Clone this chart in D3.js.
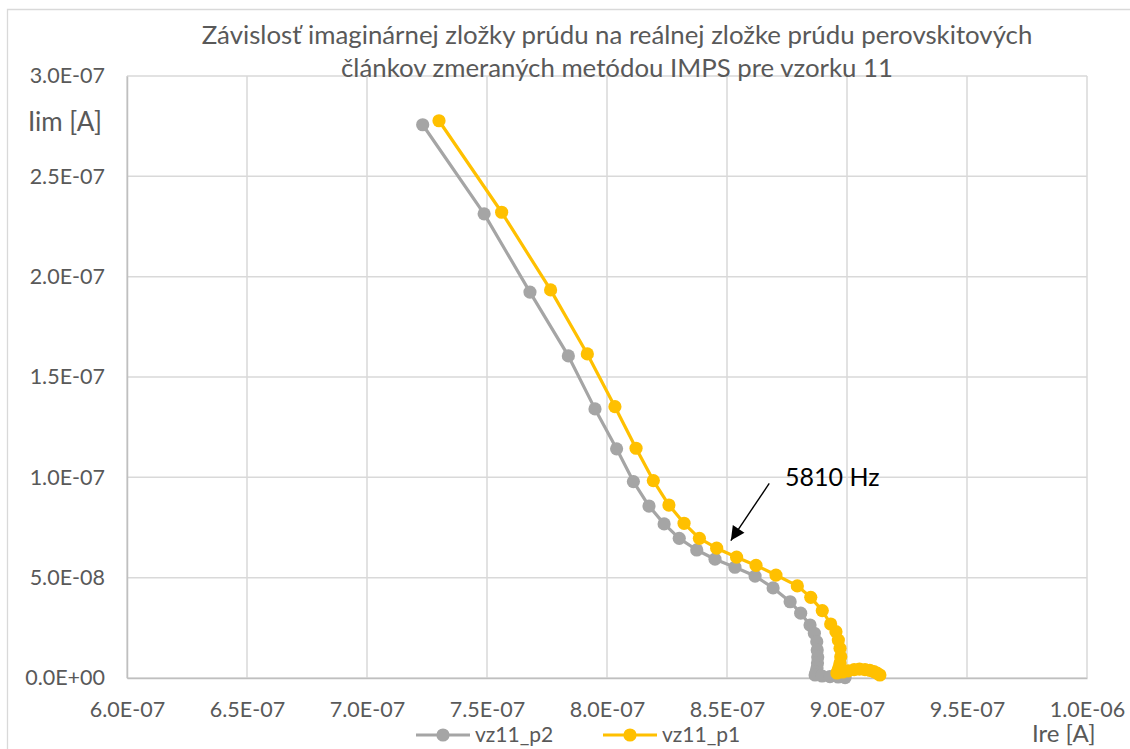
<!DOCTYPE html>
<html>
<head>
<meta charset="utf-8">
<script src="https://cdn.jsdelivr.net/npm/d3@7"></script>
<style>
  html, body { margin: 0; padding: 0; background: #fff; }
  svg { display: block; font-family: Lato, "Open Sans", sans-serif; }
</style>
</head>
<body>
<svg id="chart" width="1130" height="749"></svg>
<script>
// IMPS Nyquist data, sample 11: real part (Ire) vs imaginary part (Iim), amps
const seriesNames = ["vz11_p2", "vz11_p1"];
const seriesColors = ["#A5A5A5", "#FFC000"];

const p2Re = [7.232e-7, 7.488e-7, 7.679e-7, 7.839e-7, 7.950e-7, 8.040e-7, 8.110e-7, 8.175e-7, 8.238e-7, 8.301e-7,
  8.374e-7, 8.450e-7, 8.533e-7, 8.617e-7, 8.692e-7, 8.763e-7, 8.807e-7, 8.846e-7, 8.864e-7, 8.874e-7,
  8.876e-7, 8.878e-7, 8.877e-7, 8.875e-7, 8.871e-7, 8.867e-7, 8.896e-7, 8.929e-7, 8.963e-7, 8.992e-7];
const p2Im = [2.757e-7, 2.313e-7, 1.923e-7, 1.605e-7, 1.341e-7, 1.142e-7, 9.79e-8, 8.57e-8, 7.68e-8, 6.96e-8,
  6.38e-8, 5.92e-8, 5.52e-8, 5.08e-8, 4.49e-8, 3.80e-8, 3.23e-8, 2.64e-8, 2.23e-8, 1.81e-8,
  1.40e-8, 1.05e-8, 7.5e-9, 5.0e-9, 3.0e-9, 1.5e-9, 1.0e-9, 7e-10, 5e-10, 2e-10];

const p1Re = [7.300e-7, 7.561e-7, 7.765e-7, 7.918e-7, 8.033e-7, 8.121e-7, 8.193e-7, 8.258e-7, 8.321e-7, 8.385e-7,
  8.457e-7, 8.540e-7, 8.621e-7, 8.704e-7, 8.793e-7, 8.849e-7, 8.897e-7, 8.932e-7, 8.954e-7, 8.964e-7,
  8.971e-7, 8.974e-7, 8.971e-7, 8.968e-7, 8.963e-7, 8.958e-7, 8.982e-7, 9.005e-7, 9.030e-7, 9.052e-7,
  9.075e-7, 9.095e-7, 9.112e-7, 9.125e-7, 9.137e-7];
const p1Im = [2.777e-7, 2.321e-7, 1.934e-7, 1.615e-7, 1.352e-7, 1.145e-7, 9.84e-8, 8.62e-8, 7.71e-8, 6.96e-8,
  6.47e-8, 6.02e-8, 5.61e-8, 5.13e-8, 4.59e-8, 4.02e-8, 3.36e-8, 2.69e-8, 2.31e-8, 1.89e-8,
  1.48e-8, 1.06e-8, 7.5e-9, 5.6e-9, 4.0e-9, 2.5e-9, 3.0e-9, 3.6e-9, 4.2e-9, 4.4e-9,
  4.2e-9, 3.8e-9, 3.2e-9, 2.4e-9, 1.5e-9];

const xTicks = [6.0e-7, 6.5e-7, 7.0e-7, 7.5e-7, 8.0e-7, 8.5e-7, 9.0e-7, 9.5e-7, 1.0e-6];
const yTicks = [0, 5e-8, 1.0e-7, 1.5e-7, 2.0e-7, 2.5e-7, 3.0e-7];

const titleLines = ["Závislosť imaginárnej zložky prúdu na reálnej zložke prúdu perovskitových",
                    "článkov zmeraných metódou IMPS pre vzorku 11"];
const xTitle = "Ire [A]";
const yTitle = "Iim [A]";

// frequency callout: label and the point it refers to (data coordinates)
const calloutText = "5810 Hz";
const calloutTip = [8.516e-7, 6.85e-8];
const calloutTail = [8.676e-7, 9.7e-8];

const svg = d3.select("#chart");
const W = 1130, H = 749;
const plot = { left: 127, right: 1087, top: 76, bottom: 678 };

const x = d3.scaleLinear().domain([6.0e-7, 1.0e-6]).range([plot.left, plot.right]);
const y = d3.scaleLinear().domain([0, 3.0e-7]).range([plot.bottom, plot.top]);

// "5.0E-08" style exponent labels
function sci(v) {
  if (v === 0) return "0.0E+00";
  const e = Math.floor(Math.log10(Math.abs(v)) + 1e-9);
  const m = v / Math.pow(10, e);
  const sign = e < 0 ? "-" : "+";
  return m.toFixed(1) + "E" + sign + String(Math.abs(e)).padStart(2, "0");
}

// outer chart frame
svg.append("path")
  .attr("d", `M7.5,${H} V9.5 H${W}`)
  .attr("fill", "none").attr("stroke", "#D9D9D9").attr("stroke-width", 1.3);

// gridlines
const grid = svg.append("g");
grid.selectAll("line.v").data(xTicks).join("line")
  .attr("x1", d => x(d)).attr("x2", d => x(d))
  .attr("y1", plot.top).attr("y2", plot.bottom)
  .attr("stroke", "#D9D9D9").attr("stroke-width", 1.5);
grid.selectAll("line.h").data(yTicks).join("line")
  .attr("y1", d => y(d)).attr("y2", d => y(d))
  .attr("x1", plot.left).attr("x2", plot.right)
  .attr("stroke", "#D9D9D9").attr("stroke-width", 1.5);

// axes
const xAxis = svg.append("g").attr("transform", `translate(0,${plot.bottom})`)
  .call(d3.axisBottom(x).tickValues(xTicks).tickFormat(sci).tickSize(0).tickPadding(25));
const yAxis = svg.append("g").attr("transform", `translate(${plot.left},0)`)
  .call(d3.axisLeft(y).tickValues(yTicks).tickFormat(sci).tickSize(0).tickPadding(22));
[xAxis, yAxis].forEach(g => {
  g.select(".domain").attr("stroke", "#BFBFBF").attr("stroke-width", 1.5);
  g.selectAll("text").attr("fill", "#595959").style("font-size", "21.5px")
    .style("font-family", "Lato, 'Open Sans', sans-serif");
});
xAxis.selectAll("text").attr("dy", "0.32em").attr("y", 32);

// axis titles
svg.append("text").attr("x", 28).attr("y", 122).attr("dy", "0.35em")
  .attr("fill", "#595959").style("font-size", "26px").text(yTitle);
svg.append("text").attr("x", 1032).attr("y", 734).attr("dy", "0.35em")
  .attr("fill", "#595959").style("font-size", "24px").text(xTitle);

// chart title
svg.append("g").selectAll("text").data(titleLines).join("text")
  .attr("x", 617).attr("y", (d, i) => 35 + i * 33).attr("dy", "0.35em")
  .attr("text-anchor", "middle").attr("fill", "#595959")
  .style("font-size", "25.8px").text(d => d);

// series: lines with round markers
const series = [
  { name: seriesNames[0], color: seriesColors[0], pts: p2Re.map((v, i) => [v, p2Im[i]]) },
  { name: seriesNames[1], color: seriesColors[1], pts: p1Re.map((v, i) => [v, p1Im[i]]) }
];
const line = d3.line().x(d => x(d[0])).y(d => y(d[1]));
series.forEach(s => {
  const g = svg.append("g");
  g.append("path").attr("d", line(s.pts)).attr("fill", "none")
    .attr("stroke", s.color).attr("stroke-width", 3.2).attr("stroke-linejoin", "round");
  g.selectAll("circle").data(s.pts).join("circle")
    .attr("cx", d => x(d[0])).attr("cy", d => y(d[1])).attr("r", 6.6)
    .attr("fill", s.color);
});

// callout arrow
svg.append("defs").append("marker")
  .attr("id", "arrowHead").attr("viewBox", "0 0 10 10")
  .attr("refX", 10).attr("refY", 5).attr("markerWidth", 15).attr("markerHeight", 14)
  .attr("markerUnits", "userSpaceOnUse").attr("orient", "auto")
  .append("path").attr("d", "M0,0 L10,5 L0,10 z").attr("fill", "#000");
svg.append("line")
  .attr("x1", x(calloutTail[0])).attr("y1", y(calloutTail[1]))
  .attr("x2", x(calloutTip[0])).attr("y2", y(calloutTip[1]))
  .attr("stroke", "#000").attr("stroke-width", 1.4)
  .attr("marker-end", "url(#arrowHead)");
svg.append("text").attr("x", 785).attr("y", 477).attr("dy", "0.35em")
  .attr("fill", "#000").style("font-size", "25px").text(calloutText);

// legend
const legendItems = [
  { name: seriesNames[0], color: seriesColors[0], x0: 416 },
  { name: seriesNames[1], color: seriesColors[1], x0: 603 }
];
const lg = svg.append("g");
legendItems.forEach(it => {
  lg.append("line").attr("x1", it.x0).attr("x2", it.x0 + 54)
    .attr("y1", 735).attr("y2", 735).attr("stroke", it.color).attr("stroke-width", 3.2);
  lg.append("circle").attr("cx", it.x0 + 27).attr("cy", 735).attr("r", 6.6).attr("fill", it.color);
  lg.append("text").attr("x", it.x0 + 59).attr("y", 735).attr("dy", "0.35em")
    .attr("fill", "#595959").style("font-size", "21px").text(it.name);
});
</script>
</body>
</html>
